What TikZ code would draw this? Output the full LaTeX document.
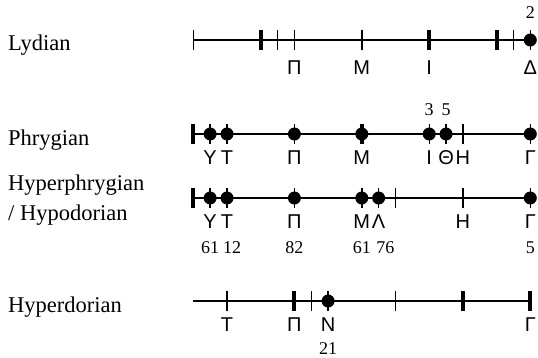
\documentclass[tikz,border=0pt]{standalone}
\usepackage{fontspec}
\setmainfont{Liberation Serif}
\newfontfamily\greekfont{Liberation Sans}
\usetikzlibrary{positioning}

\begin{document}
\begin{tikzpicture}[
    x=1pt, y=-1pt,
    lighttick/.style={rectangle, fill=black, inner sep=0pt, minimum width=1.4pt, minimum height=20pt},
    heavytick/.style={rectangle, fill=black, inner sep=0pt, minimum width=4pt, minimum height=20pt},
    note/.style={circle, fill=black, inner sep=0pt, minimum size=13pt},
    string/.style={line width=1.4pt},
    mode/.style={anchor=west, inner sep=0pt, align=left, font=\fontsize{22.5}{30}\selectfont},
    letter/.style={inner sep=0pt, font=\greekfont\fontsize{20}{20}\selectfont},
    count/.style={inner sep=0pt, font=\fontsize{18}{18}\selectfont}
  ]
  \useasboundingbox (0,0) rectangle (538,358);

  % Mode names
  \node[mode] (lydian) at (8,45) {Lydian};
  \node[mode] (phrygian) at (8,140) {Phrygian};
  \node[mode] (hyperphrygian) at (8,200) {Hyperphrygian\\/ Hypodorian};
  \node[mode] (hyperdorian) at (8,307) {Hyperdorian};

  \begin{scope}[xshift=193.3pt, x=16.85pt]
    % Lydian
    \node[lighttick] (ly0) at (0,40) {};
    \node[heavytick] (ly4) at (4,40) {};
    \node[lighttick] (ly5) at (5,40) {};
    \node[lighttick] (ly6) at (6,40) {};
    \node[lighttick] (ly10) at (10,40) {};
    \node[heavytick] (ly14) at (14,40) {};
    \node[heavytick] (ly18) at (18,40) {};
    \node[lighttick] (ly19) at (19,40) {};
    \node[lighttick] (ly20t) at (20,40) {};
    \node[note] (ly20) at (20,40) {};
    \draw[string] (ly0.center) -- (ly20.center);
    \node[letter] at (6,68) {Π};
    \node[letter] at (10,68) {Μ};
    \node[letter] at (14,68) {Ι};
    \node[letter] at (20,68) {Δ};
    \node[count] at (20,13) {2};

    % Phrygian
    \node[heavytick] (ph0) at (0,134) {};
    \foreach \k in {1,2,6,14,15,20} {
      \node[lighttick] (ph\k t) at (\k,134) {};
      \node[note] (ph\k) at (\k,134) {};
    }
    \node[heavytick] (ph10t) at (10,134) {};
    \node[note] (ph10) at (10,134) {};
    \node[lighttick] (ph16) at (16,134) {};
    \draw[string] (ph0.center) -- (ph20.center);
    \node[letter] at (1,158) {Υ};
    \node[letter] at (2,158) {Τ};
    \node[letter] at (6,158) {Π};
    \node[letter] at (10,158) {Μ};
    \node[letter] at (14,158) {Ι};
    \node[letter] at (15,158) {Θ};
    \node[letter] at (16,158) {Η};
    \node[letter] at (20,158) {Γ};
    \node[count] at (14,110) {3};
    \node[count] at (15,110) {5};

    % Hyperphrygian / Hypodorian
    \node[heavytick] (hp0) at (0,198) {};
    \foreach \k in {1,2,6,10,11,20} {
      \node[lighttick] (hp\k t) at (\k,198) {};
      \node[note] (hp\k) at (\k,198) {};
    }
    \node[lighttick] (hp12) at (12,198) {};
    \node[lighttick] (hp16) at (16,198) {};
    \draw[string] (hp0.center) -- (hp20.center);
    \node[letter] at (1,222) {Υ};
    \node[letter] at (2,222) {Τ};
    \node[letter] at (6,222) {Π};
    \node[letter] at (10,222) {Μ};
    \node[letter] at (11,222) {Λ};
    \node[letter] at (16,222) {Η};
    \node[letter] at (20,222) {Γ};
    \node[count] at (1,248) {61};
    \node[count] at (2.3,248) {12};
    \node[count] at (6,248) {82};
    \node[count] at (10,248) {61};
    \node[count] at (11.4,248) {76};
    \node[count] at (20,248) {5};

    % Hyperdorian
    \coordinate (hd0) at (0,301);
    \node[lighttick] (hd2) at (2,301) {};
    \node[heavytick] (hd6) at (6,301) {};
    \node[lighttick] (hd7) at (7,301) {};
    \node[lighttick] (hd8t) at (8,301) {};
    \node[note] (hd8) at (8,301) {};
    \node[lighttick] (hd12) at (12,301) {};
    \node[heavytick] (hd16) at (16,301) {};
    \node[heavytick] (hd20) at (20,301) {};
    \draw[string] (hd0) -- (hd20.center);
    \node[letter] at (2,325) {Τ};
    \node[letter] at (6,325) {Π};
    \node[letter] at (8,325) {Ν};
    \node[letter] at (20,325) {Γ};
    \node[count] at (8,349) {21};
  \end{scope}
\end{tikzpicture}
\end{document}
